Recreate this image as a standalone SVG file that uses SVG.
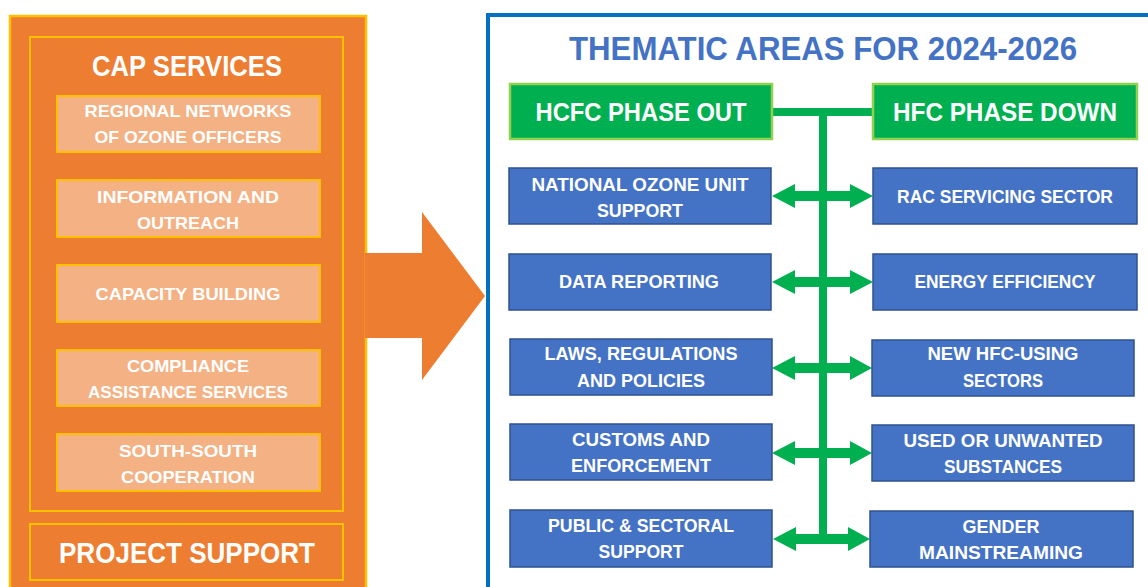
<svg xmlns="http://www.w3.org/2000/svg" width="1148" height="587" viewBox="0 0 1148 587">
<style>
text{font-family:"Liberation Sans",Arial,sans-serif;font-weight:bold;fill:#fff;text-anchor:middle}
.sub{fill:#F4B183;stroke:#FFC000;stroke-width:2}
.frame{fill:none;stroke:#FFC000;stroke-width:2}
.blue{fill:#4472C4;stroke:#2F528F;stroke-width:1.5}
.green{fill:#00B050;stroke:#92D050;stroke-width:2.5}
.s{font-size:17px}
.b{font-size:19px}
.g{font-size:26px}
.h{font-size:29px}
.conn{fill:#00B050}
</style>
<rect width="1148" height="587" fill="#fff"/>
<g id="left-panel">
<rect x="10" y="16" width="356" height="600" fill="#ED7D31" stroke="#FFC000" stroke-width="2.5"/>
</g>
<g id="cap-services">
<rect class="frame" x="30" y="37" width="313" height="474"/>
<text class="h" x="187" y="76" textLength="190" lengthAdjust="spacingAndGlyphs">CAP SERVICES</text>
</g>
<g id="regional">
<rect class="sub" x="57" y="96" width="263" height="56"/>
<text class="s" x="188" y="117" textLength="207" lengthAdjust="spacingAndGlyphs">REGIONAL NETWORKS</text>
<text class="s" x="188" y="143" textLength="187" lengthAdjust="spacingAndGlyphs">OF OZONE OFFICERS</text>
</g>
<g id="information">
<rect class="sub" x="57" y="180" width="263" height="57"/>
<text class="s" x="188" y="203" textLength="182" lengthAdjust="spacingAndGlyphs">INFORMATION AND</text>
<text class="s" x="188" y="229" textLength="102" lengthAdjust="spacingAndGlyphs">OUTREACH</text>
</g>
<g id="capacity">
<rect class="sub" x="57" y="265" width="263" height="57"/>
<text class="s" x="188" y="300" textLength="185" lengthAdjust="spacingAndGlyphs">CAPACITY BUILDING</text>
</g>
<g id="compliance">
<rect class="sub" x="57" y="350" width="263" height="56"/>
<text class="s" x="188" y="372" textLength="122" lengthAdjust="spacingAndGlyphs">COMPLIANCE</text>
<text class="s" x="188" y="398" textLength="200" lengthAdjust="spacingAndGlyphs">ASSISTANCE SERVICES</text>
</g>
<g id="south-south">
<rect class="sub" x="57" y="434" width="263" height="57"/>
<text class="s" x="188" y="457" textLength="138" lengthAdjust="spacingAndGlyphs">SOUTH-SOUTH</text>
<text class="s" x="188" y="483" textLength="134" lengthAdjust="spacingAndGlyphs">COOPERATION</text>
</g>
<g id="project-support">
<rect class="frame" x="30" y="524" width="313" height="56"/>
<text class="h" x="187" y="563" textLength="256" lengthAdjust="spacingAndGlyphs">PROJECT SUPPORT</text>
</g>
<g id="big-arrow">
<polygon points="365,253 422,253 422,212 485,296 422,380 422,338 365,338" fill="#ED7D31"/>
</g>
<g id="thematic-areas">
<rect x="488" y="15" width="720" height="700" fill="none" stroke="#0070C0" stroke-width="4"/>
<text x="823" y="60" font-size="34" style="fill:#4472C4" textLength="508" lengthAdjust="spacingAndGlyphs">THEMATIC AREAS FOR 2024-2026</text>
</g>
<g id="connectors">
<rect class="conn" x="772" y="108" width="101" height="8"/>
<rect class="conn" x="819" y="108" width="8" height="435"/>
<g id="arrow-row1" transform="translate(0,196)">
<polygon class="conn" points="772,0 795,-12 795,-5 850,-5 850,-12 873,0 850,12 850,5 795,5 795,12"/>
</g>
<g transform="translate(0,282)">
<polygon class="conn" points="772,0 795,-12 795,-5 850,-5 850,-12 873,0 850,12 850,5 795,5 795,12"/>
</g>
<g transform="translate(0,368)">
<polygon class="conn" points="772,0 795,-12 795,-5 850,-5 850,-12 872,0 850,12 850,5 795,5 795,12"/>
</g>
<g transform="translate(0,453)">
<polygon class="conn" points="772,0 795,-12 795,-5 850,-5 850,-12 872,0 850,12 850,5 795,5 795,12"/>
</g>
<g transform="translate(0,539)">
<polygon class="conn" points="773,0 796,-12 796,-5 848,-5 848,-12 870,0 848,12 848,5 796,5 796,12"/>
</g>
</g>
<g id="hcfc">
<rect class="green" x="510" y="84" width="262" height="55"/>
<text class="g" x="641" y="121" textLength="211" lengthAdjust="spacingAndGlyphs">HCFC PHASE OUT</text>
</g>
<g id="hfc">
<rect class="green" x="873" y="84" width="264" height="55"/>
<text class="g" x="1005" y="121" textLength="224" lengthAdjust="spacingAndGlyphs">HFC PHASE DOWN</text>
</g>
<g id="nou">
<rect class="blue" x="509" y="168" width="262" height="56"/>
<text class="b" x="640" y="191" textLength="217" lengthAdjust="spacingAndGlyphs">NATIONAL OZONE UNIT</text>
<text class="b" x="640" y="217" textLength="86" lengthAdjust="spacingAndGlyphs">SUPPORT</text>
</g>
<g id="data">
<rect class="blue" x="509" y="254" width="262" height="56"/>
<text class="b" x="639" y="288" textLength="160" lengthAdjust="spacingAndGlyphs">DATA REPORTING</text>
</g>
<g id="laws">
<rect class="blue" x="510" y="339" width="262" height="56"/>
<text class="b" x="641" y="360" textLength="193" lengthAdjust="spacingAndGlyphs">LAWS, REGULATIONS</text>
<text class="b" x="641" y="387" textLength="128" lengthAdjust="spacingAndGlyphs">AND POLICIES</text>
</g>
<g id="customs">
<rect class="blue" x="510" y="424" width="262" height="56"/>
<text class="b" x="641" y="446" textLength="138" lengthAdjust="spacingAndGlyphs">CUSTOMS AND</text>
<text class="b" x="641" y="472" textLength="140" lengthAdjust="spacingAndGlyphs">ENFORCEMENT</text>
</g>
<g id="public">
<rect class="blue" x="510" y="510" width="262" height="57"/>
<text class="b" x="641" y="532" textLength="186" lengthAdjust="spacingAndGlyphs">PUBLIC &amp; SECTORAL</text>
<text class="b" x="641" y="558" textLength="85" lengthAdjust="spacingAndGlyphs">SUPPORT</text>
</g>
<g id="rac">
<rect class="blue" x="873" y="168" width="264" height="56"/>
<text class="b" x="1005" y="203" textLength="216" lengthAdjust="spacingAndGlyphs">RAC SERVICING SECTOR</text>
</g>
<g id="energy">
<rect class="blue" x="873" y="254" width="264" height="56"/>
<text class="b" x="1005" y="288" textLength="181" lengthAdjust="spacingAndGlyphs">ENERGY EFFICIENCY</text>
</g>
<g id="new-hfc">
<rect class="blue" x="872" y="340" width="262" height="56"/>
<text class="b" x="1003" y="360" textLength="151" lengthAdjust="spacingAndGlyphs">NEW HFC-USING</text>
<text class="b" x="1003" y="387" textLength="80" lengthAdjust="spacingAndGlyphs">SECTORS</text>
</g>
<g id="used">
<rect class="blue" x="872" y="425" width="262" height="56"/>
<text class="b" x="1003" y="447" textLength="199" lengthAdjust="spacingAndGlyphs">USED OR UNWANTED</text>
<text class="b" x="1003" y="473" textLength="118" lengthAdjust="spacingAndGlyphs">SUBSTANCES</text>
</g>
<g id="gender">
<rect class="blue" x="870" y="511" width="263" height="56"/>
<text class="b" x="1001" y="533" textLength="77" lengthAdjust="spacingAndGlyphs">GENDER</text>
<text class="b" x="1001" y="559" textLength="164" lengthAdjust="spacingAndGlyphs">MAINSTREAMING</text>
</g>
</svg>
